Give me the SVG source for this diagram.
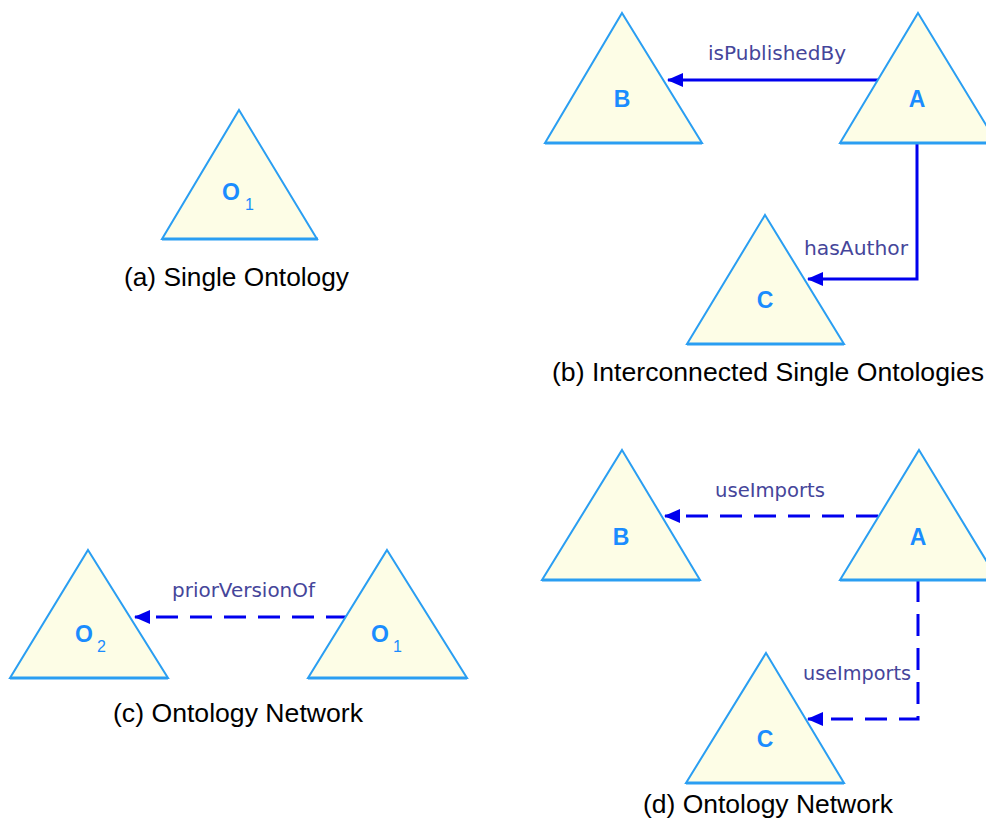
<svg xmlns="http://www.w3.org/2000/svg" width="986" height="825" viewBox="0 0 986 825">
<style>
.tri{fill:#fdfde6;stroke:#2a9ef2;stroke-width:2;stroke-linejoin:miter}
.base{stroke:#2a9ef2;stroke-width:3}
.let{font-family:"Liberation Sans",Arial,sans-serif;font-size:23px;font-weight:bold;fill:#1a8cff;text-anchor:middle}
.sub{font-family:"Liberation Sans",Arial,sans-serif;font-size:16px;fill:#1a8cff}
.lab{font-family:"DejaVu Sans",Verdana,sans-serif;font-size:19px;fill:#45459a}
.cap{font-family:"Liberation Sans",Arial,sans-serif;font-size:26px;fill:#000}
.con{fill:none;stroke:#0000ee;stroke-width:3}
.dash{stroke-dasharray:22 12}
</style>
<defs>
<marker id="ah" markerWidth="16" markerHeight="14" refX="15" refY="7" orient="auto" markerUnits="userSpaceOnUse">
<path d="M0,0 L16,7 L0,14 Z" fill="#0000ee"/>
</marker>
</defs>
<rect width="986" height="825" fill="#fff"/>
<g id="connectors">
<line class="con" x1="879" y1="80" x2="668" y2="80" marker-end="url(#ah)"/>
<polyline class="con" points="917,143 917,279 808,279" marker-end="url(#ah)"/>
<line class="con dash" x1="348" y1="617" x2="135" y2="617" marker-end="url(#ah)"/>
<line class="con dash" x1="878" y1="516" x2="665" y2="516" marker-end="url(#ah)"/>
<polyline class="con dash" points="918,580 918,719 808,719" marker-end="url(#ah)"/>
</g>
<g id="a-O1">
<polygon class="tri" points="239,110 317,239 162,239"/>
<line class="base" x1="162" y1="239" x2="318" y2="239"/>
<text class="let" x="231" y="200">O</text><text class="sub" x="245" y="210">1</text>
</g>
<text class="cap" x="124" y="286" textLength="225" lengthAdjust="spacingAndGlyphs">(a) Single Ontology</text>
<g id="b-B">
<polygon class="tri" points="622,13 702,143 545,143"/>
<line class="base" x1="545" y1="143" x2="702" y2="143"/>
<text class="let" x="622" y="107">B</text>
</g>
<g id="b-A">
<polygon class="tri" points="918,13 997,143 840,143"/>
<line class="base" x1="840" y1="143" x2="997" y2="143"/>
<text class="let" x="917" y="107">A</text>
</g>
<g id="b-C">
<polygon class="tri" points="765,215 844,344 687,344"/>
<line class="base" x1="687" y1="344" x2="844" y2="344"/>
<text class="let" x="765" y="308">C</text>
</g>
<text class="lab" x="708" y="60" textLength="138" lengthAdjust="spacingAndGlyphs">isPublishedBy</text>
<text class="lab" x="804" y="255" textLength="104" lengthAdjust="spacingAndGlyphs">hasAuthor</text>
<text class="cap" x="552" y="381" textLength="432" lengthAdjust="spacingAndGlyphs">(b) Interconnected Single Ontologies</text>
<g id="c-O2">
<polygon class="tri" points="88,550 168,678 10,678"/>
<line class="base" x1="10" y1="678" x2="168" y2="678"/>
<text class="let" x="84" y="642">O</text><text class="sub" x="97" y="652">2</text>
</g>
<g id="c-O1">
<polygon class="tri" points="387,550 467,678 308,678"/>
<line class="base" x1="308" y1="678" x2="467" y2="678"/>
<text class="let" x="380" y="642">O</text><text class="sub" x="393" y="652">1</text>
</g>
<text class="lab" x="172" y="597" textLength="143" lengthAdjust="spacingAndGlyphs">priorVersionOf</text>
<text class="cap" x="113" y="722" textLength="250" lengthAdjust="spacingAndGlyphs">(c) Ontology Network</text>
<g id="d-B">
<polygon class="tri" points="622,450 700,580 542,580"/>
<line class="base" x1="542" y1="580" x2="700" y2="580"/>
<text class="let" x="621" y="545">B</text>
</g>
<g id="d-A">
<polygon class="tri" points="919,450 998,580 840,580"/>
<line class="base" x1="840" y1="580" x2="998" y2="580"/>
<text class="let" x="918" y="545">A</text>
</g>
<g id="d-C">
<polygon class="tri" points="766,653 844,783 686,783"/>
<line class="base" x1="686" y1="783" x2="844" y2="783"/>
<text class="let" x="765" y="747">C</text>
</g>
<text class="lab" x="715" y="497" textLength="110" lengthAdjust="spacingAndGlyphs">useImports</text>
<text class="lab" x="803" y="680" textLength="108" lengthAdjust="spacingAndGlyphs">useImports</text>
<text class="cap" x="643" y="813" textLength="250" lengthAdjust="spacingAndGlyphs">(d) Ontology Network</text>
</svg>
